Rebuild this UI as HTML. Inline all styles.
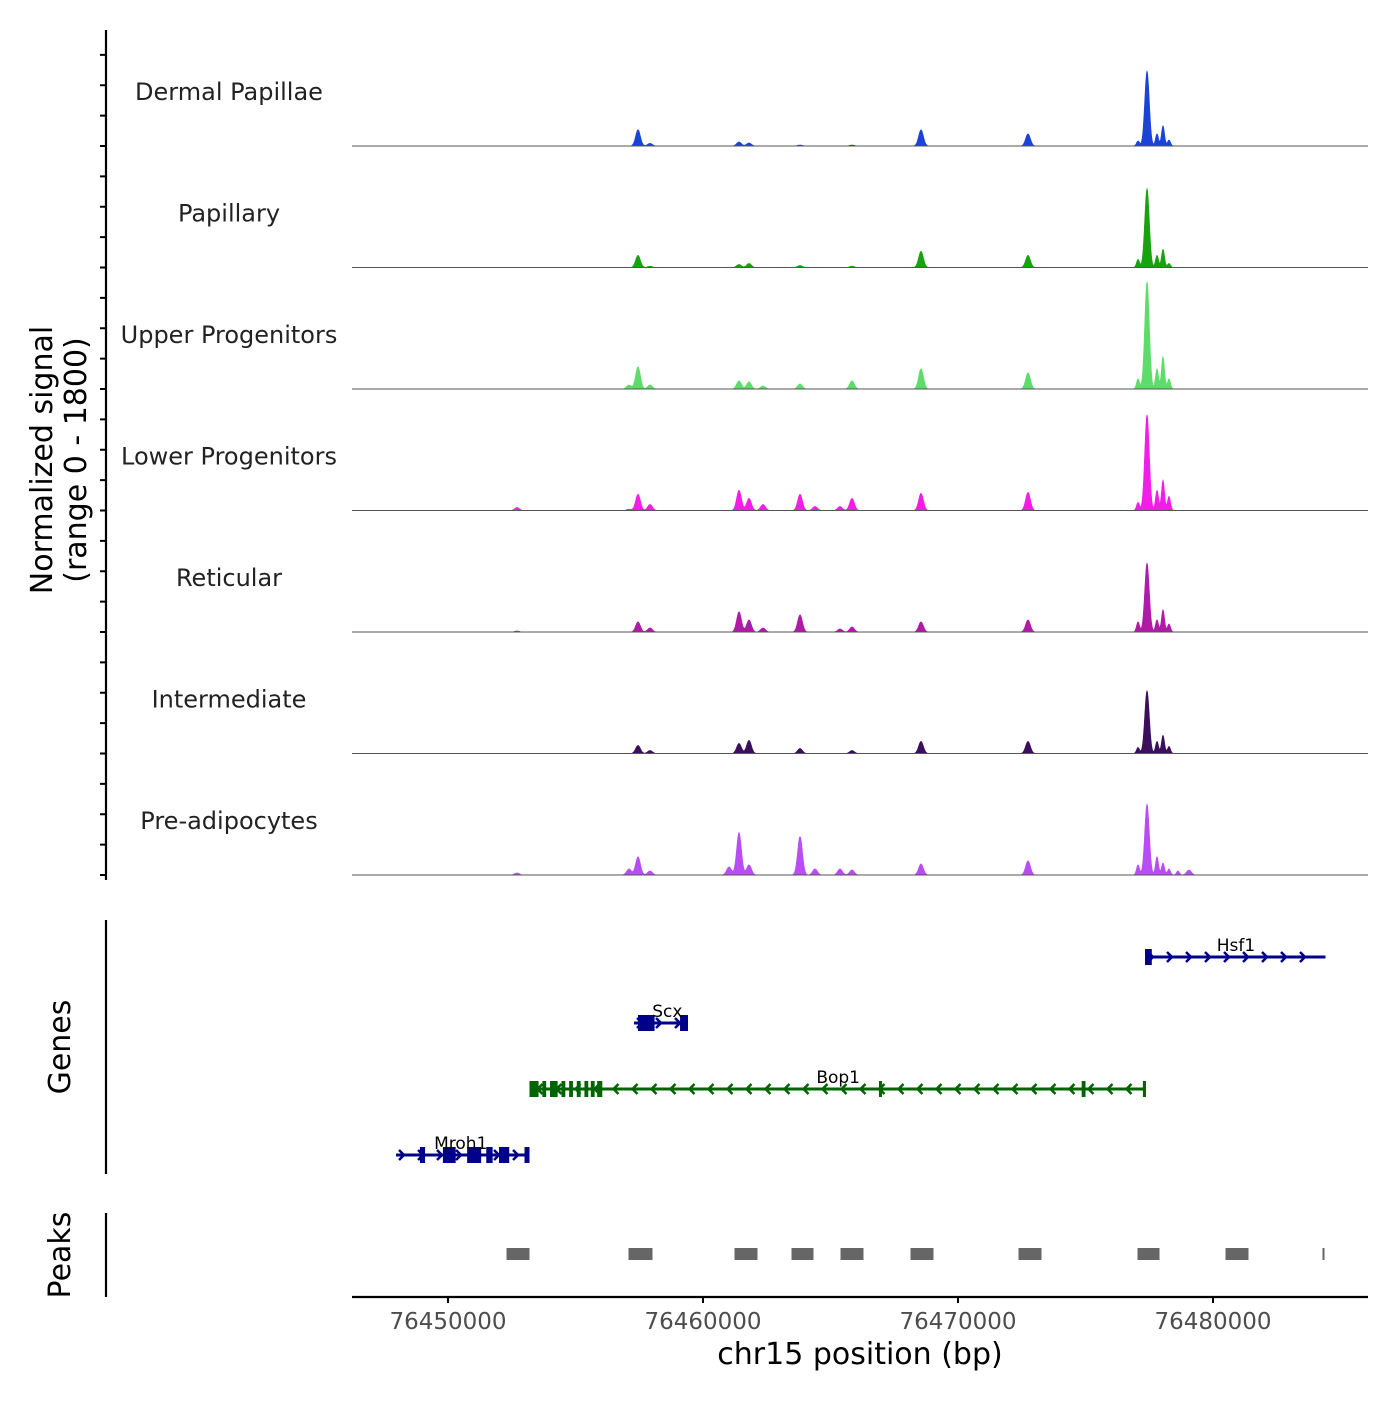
<!DOCTYPE html>
<html><head><meta charset="utf-8"><style>
body{margin:0;background:#fff}
svg{font-family:"DejaVu Sans","Liberation Sans",sans-serif}
</style></head><body>
<svg id="c" width="1400" height="1400" xmlns="http://www.w3.org/2000/svg"></svg>
<script>
const trackNames=["Dermal Papillae","Papillary","Upper Progenitors","Lower Progenitors","Reticular","Intermediate","Pre-adipocytes"];
const trackColors=["#1a43d8","#17a30f","#5ddc6a","#f21de6","#b01aa8","#3b0f5c","#b94cf5"];
const peakPos=[76452706,76457098,76457451,76457921,76461020,76461412,76461804,76462353,76463804,76464392,76465372,76465843,76468549,76472745,76477059,76477412,76477804,76478039,76478274,76478627,76479058];
const sigDP=[0,0,240,40,0,60,45,0,15,0,0,15,240,180,75,1110,180,300,90,0,0];
const sigPap=[0,0,180,20,0,45,60,0,30,0,0,20,240,180,120,1170,180,270,60,0,0];
const sigUpper=[0,60,330,60,0,120,105,45,75,0,0,120,300,240,150,1590,300,480,150,0,0];
const sigLower=[45,20,240,90,0,300,180,90,240,60,60,180,255,270,120,1420,300,450,210,0,0];
const sigRet=[15,0,150,60,0,300,180,60,255,0,45,75,150,180,150,1020,180,330,120,0,0];
const sigInt=[0,0,120,45,0,150,195,0,75,0,0,45,180,180,90,930,180,270,105,0,0];
const sigPre=[30,90,270,60,120,630,150,0,570,90,90,75,165,210,150,1050,270,180,90,60,75];
const allSig=[sigDP,sigPap,sigUpper,sigLower,sigRet,sigInt,sigPre];
const xMin=76446235,xMax=76486078,yMaxSig=1800;
const xTicks=[76450000,76460000,76470000,76480000];
const peakRegions=[[76452294,76453196],[76457078,76458019],[76461235,76462137],[76463470,76464333],[76465392,76466294],[76468137,76469039],[76472372,76473274],[76477039,76477902],[76480490,76481392],[76484294,76484372]];
const genes=[
 {name:"Hsf1",start:76477333,end:76484411,strand:1,row:0,color:"#00008b",exons:[[76477333,76477600]],labelAt:76480900},
 {name:"Scx",start:76457294,end:76459411,strand:1,row:1,color:"#00008b",exons:[[76457450,76458100],[76459100,76459411]],labelAt:76458600},
 {name:"Bop1",start:76453196,end:76477372,strand:-1,row:2,color:"#006400",exons:[[76453196,76453550],[76453700,76453850],[76454000,76454300],[76454450,76454600],[76454750,76454900],[76455050,76455200],[76455350,76455500],[76455600,76455750],[76455850,76456050],[76466900,76466980],[76474850,76475000],[76477250,76477372]],labelAt:76465300},
 {name:"Mroh1",start:76447961,end:76453196,strand:1,row:3,color:"#00008b",exons:[[76448900,76449100],[76449800,76450300],[76450750,76451300],[76451500,76451750],[76452000,76452400],[76453000,76453196]],labelAt:76450500}
];
const svg=document.getElementById('c');
const NS="http://www.w3.org/2000/svg";
const X0=352,X1=1368;
const xs=v=>X0+(v-xMin)/(xMax-xMin)*(X1-X0);
function mk(t,a,p){const e=document.createElementNS(NS,t);for(const k in a)e.setAttribute(k,a[k]);(p||svg).appendChild(e);return e;}
const trackH=121.5,base0=146;
allSig.forEach((sig,ti)=>{
 const g=mk('g',{});
 
 
 const base=base0+ti*trackH;
 const ys=v=>base-v/yMaxSig*trackH;
 let d="M"+X0+","+base;
 for(let px=X0;px<=X1;px+=0.5){
  const bp=xMin+(px-X0)/(X1-X0)*(xMax-xMin);
  let v=0;
  sig.forEach((h,i)=>{const s=(i==15?90:(i>=14&&i<=19?60:95));const z=(bp-peakPos[i])/s;v+=h*Math.exp(-0.5*z*z);});
  d+=" L"+px.toFixed(1)+","+ys(v).toFixed(2);
 }
 d+=" L"+X1+","+base+" Z";
 const p=mk('path',{d:d,fill:trackColors[ti],stroke:trackColors[ti],'stroke-width':0.6},g);
 
 
 const bl=mk('line',{x1:X0,x2:X1,y1:base,y2:base,stroke:"#555",'stroke-width':1},g);
 
 
 const t=mk('text',{x:229,y:base-46,'text-anchor':'middle','font-size':24,fill:'#222'},g);
 t.textContent=trackNames[ti];
 
 
});
const ax=mk('line',{x1:106,x2:106,y1:30,y2:880,stroke:'#000','stroke-width':2.2});


for(let k=0;k<=28;k++){const y=base0+6*trackH-k*trackH/4;if(y<28)break;
 const tk=mk('line',{x1:100,x2:106,y1:y,y2:y,stroke:'#000','stroke-width':2});
 
 }
const yt=mk('text',{transform:'translate(52,460) rotate(-90)','text-anchor':'middle','font-size':30,fill:'#000'});
yt.innerHTML='<tspan x="0" dy="0">Normalized signal</tspan><tspan x="0" dy="34">(range 0 - 1800)</tspan>';


const gax=mk('line',{x1:106,x2:106,y1:920,y2:1174,stroke:'#000','stroke-width':2.2});


const gt=mk('text',{transform:'translate(70,1047) rotate(-90)','text-anchor':'middle','font-size':30});gt.textContent='Genes';


const rowY=[957,1023,1089,1155];
genes.forEach(gn=>{
 const g=mk('g',{});
 
 
 const y=rowY[gn.row],c=gn.color;
 mk('line',{x1:xs(gn.start),x2:xs(gn.end),y1:y,y2:y,stroke:c,'stroke-width':3},g);
 for(let px=xs(gn.start)+8;px<xs(gn.end)-4;px+=19){
  const dx=gn.strand*5;
  mk('path',{d:`M${px-dx},${y-5} L${px},${y} L${px-dx},${y+5}`,fill:'none',stroke:c,'stroke-width':2.5},g);
 }
 gn.exons.forEach(e=>{mk('rect',{x:xs(e[0]),y:y-8,width:Math.max(3,xs(e[1])-xs(e[0])),height:16,fill:c},g);});
 const t=mk('text',{x:xs(gn.labelAt),y:y-6,'text-anchor':'middle','font-size':17,fill:'#000'},g);t.textContent=gn.name;
});
const pax=mk('line',{x1:106,x2:106,y1:1213,y2:1297,stroke:'#000','stroke-width':2.2});


const pt=mk('text',{transform:'translate(70,1255) rotate(-90)','text-anchor':'middle','font-size':30});pt.textContent='Peaks';


peakRegions.forEach(r=>{const e=mk('rect',{x:xs(r[0]),y:1248,width:Math.max(2,xs(r[1])-xs(r[0])),height:12,fill:'#666'});
 
 });
const xa=mk('line',{x1:X0,x2:X1,y1:1297,y2:1297,stroke:'#000','stroke-width':2.2});


xTicks.forEach(v=>{const tk=mk('line',{x1:xs(v),x2:xs(v),y1:1297,y2:1303,stroke:'#000','stroke-width':2});
 
 
 const t=mk('text',{x:xs(v),y:1329,'text-anchor':'middle','font-size':23,fill:'#4d4d4d'});t.textContent=v;
 
 });
const xt=mk('text',{x:860,y:1364,'text-anchor':'middle','font-size':30});xt.textContent='chr15 position (bp)';


</script>
</body></html>
